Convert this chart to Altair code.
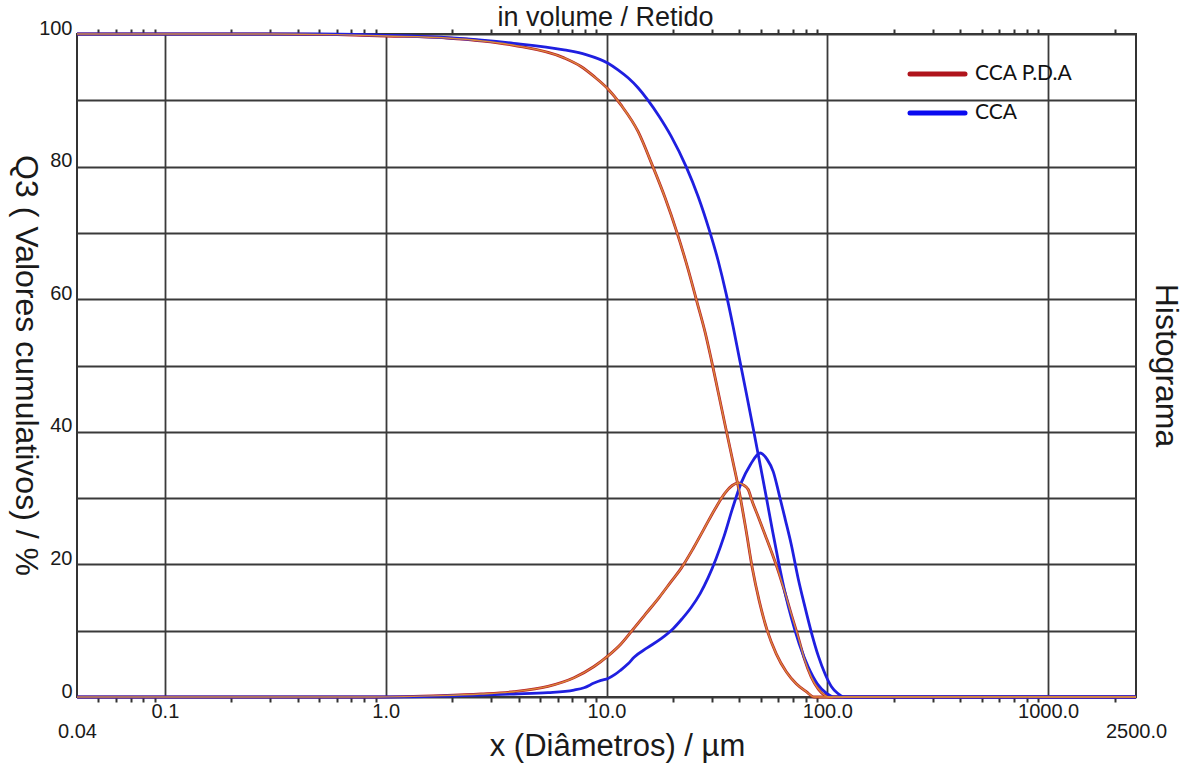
import altair as alt
import pandas as pd

# ---------------- data ----------------
series_names = ["CCA P.D.A", "CCA"]
series_colors = ["#B8202A", "#1F1FE0"]

# CCA P.D.A cumulative (retained) Q3, %
pda_cum_d = [0.04, 0.3, 0.6, 1.0, 1.9, 3.8, 6.42, 7.66, 8.78, 10.16, 11.63, 13.89, 16.08, 18.42,
             20.88, 23.42, 25.73, 27.97, 29.78, 32.04, 34.46, 37.09, 39.90, 42.93, 45.71, 49.16,
             53.46, 58.72, 65.18, 72.33, 80.30, 87.30, 2500]
pda_cum_q = [100, 100, 99.9, 99.7, 99.4, 98.3, 96.4, 95.1, 93.6, 91.7, 89.3, 85.3, 80.3, 75.3,
             70.0, 64.5, 59.5, 55.0, 51.0, 46.0, 41.0, 36.0, 31.0, 25.0, 19.5, 14.5,
             10.0, 6.5, 3.8, 2.0, 0.8, 0, 0]

# CCA P.D.A histogram
pda_hist_d = [0.04, 0.9, 1.78, 2.70, 3.81, 5.43, 7.12, 8.78, 10.16, 11.63, 13.19, 15.11, 17.30,
              19.61, 21.77, 24.69, 27.69, 31.06, 34.46, 37.09, 39.49, 41.59, 43.82, 45.71, 48.65,
              52.35, 55.72, 59.95, 63.83, 68.66, 73.87, 78.64, 84.61, 91.02, 96.92, 102.1, 2500]
pda_hist_q = [0, 0, 0.2, 0.45, 0.8, 1.6, 2.9, 4.6, 6.2, 8.0, 10.2, 12.6, 15.0,
              17.4, 19.4, 22.4, 25.4, 28.4, 30.8, 31.9, 32.3, 32.0, 31.3, 29.5, 27.2,
              24.4, 22.0, 19.0, 16.1, 12.5, 9.0, 5.8, 3.0, 1.2, 0.3, 0, 0]

# CCA cumulative (retained) Q3, %
cca_cum_d = [0.04, 0.5, 1.0, 2.0, 3.8, 6.42, 8.07, 10.16, 11.27, 12.52, 13.89, 15.43, 17.30, 19.61,
             22.94, 26.00, 29.16, 32.04, 34.83, 37.48, 39.90, 42.93, 46.18, 49.67, 52.89, 56.30,
             59.95, 64.48, 68.66, 74.65, 82.00, 90.08, 98.97, 107.6, 2500]
cca_cum_q = [100, 100, 99.8, 99.4, 98.6, 97.6, 96.9, 95.6, 94.6, 93.4, 91.9, 90.0, 87.6, 84.6,
             80.0, 75.5, 70.5, 65.8, 60.8, 55.8, 51.2, 45.9, 40.5, 35.0, 30.2, 25.3,
             20.6, 15.6, 12.0, 8.0, 4.5, 2.0, 0.6, 0, 0]

# CCA histogram
cca_hist_d = [0.04, 1.0, 1.91, 3.81, 5.43, 7.12, 7.91, 8.78, 9.44, 10.16, 10.93, 11.63, 12.52, 13.33,
              15.27, 17.67, 20.03, 22.00, 24.17, 26.55, 28.86, 31.37, 34.11, 37.09, 40.74, 44.76,
              49.67, 53.46, 56.90, 60.57, 64.48, 68.66, 73.87, 78.64, 84.61, 91.02, 97.92, 104.3,
              111.0, 119.5, 2500]
cca_hist_q = [0, 0, 0.15, 0.45, 0.65, 1.05, 1.4, 2.1, 2.5, 2.8, 3.4, 4.1, 5.0, 6.0,
              7.4, 8.8, 10.3, 11.8, 13.5, 15.6, 18.0, 20.9, 24.3, 28.3, 32.3, 35.0,
              36.8, 35.8, 34.0, 30.5, 26.8, 23.0, 17.8, 14.0, 9.8, 6.2, 3.4, 1.6,
              0.6, 0, 0]

decade_values = [0.1, 1, 10, 100, 1000]
edge_values = [0.04, 2500]
minor_values = [0.05, 0.06, 0.07, 0.08, 0.09,
                0.2, 0.3, 0.4, 0.5, 0.6, 0.7, 0.8, 0.9,
                2, 3, 4, 5, 6, 7, 8, 9,
                20, 30, 40, 50, 60, 70, 80, 90,
                200, 300, 400, 500, 600, 700, 800, 900, 2000]
y_values = [0, 10, 20, 30, 40, 50, 60, 70, 80, 90, 100]

# ---------------- table ----------------
rows = []
for name, kind, ds, qs in [
    ("CCA P.D.A", "cum", pda_cum_d, pda_cum_q),
    ("CCA P.D.A", "hist", pda_hist_d, pda_hist_q),
    ("CCA", "cum", cca_cum_d, cca_cum_q),
    ("CCA", "hist", cca_hist_d, cca_hist_q),
]:
    for i, (d, q) in enumerate(zip(ds, qs)):
        rows.append({"series": name, "kind": kind, "d": d, "q": q, "order": i})
df = pd.DataFrame(rows)

FONT = "Liberation Sans"
GRID = "#3a3a3a"
TXT = "#1a1a1a"

x_scale = alt.Scale(type="log", domain=[0.04, 2500], nice=False)
y_scale = alt.Scale(domain=[0, 100], nice=False, zero=False)

# main curves with decade grid + left axis
main = alt.Chart(df).mark_line(strokeWidth=2.8, interpolate="monotone", strokeJoin="round").encode(
    x=alt.X("d:Q", scale=x_scale, axis=alt.Axis(
        orient="bottom", values=decade_values, format=".1f", grid=True, gridColor=GRID,
        gridWidth=1.8, gridOpacity=1, ticks=False, tickSize=0, domain=False,
        labelFont=FONT, labelFontSize=20, labelColor=TXT, labelPadding=4,
        labelOverlap=False, labelFlush=False, title=None)),
    y=alt.Y("q:Q", scale=y_scale, axis=alt.Axis(
        orient="left", values=y_values, grid=True, gridColor=GRID, gridWidth=1.8, gridOpacity=1,
        ticks=False, tickSize=0, domain=False,
        labelExpr="datum.value % 20 == 0 ? datum.label : ''",
        labelFont=FONT, labelFontSize=20, labelColor=TXT, labelPadding=5,
        labelBaseline="alphabetic", labelOverlap=False, labelFlush=False,
        title="Q3 ( Valores cumulativos) / %", titleFont=FONT, titleFontSize=32,
        titleFontWeight="normal", titleColor=TXT, titleAngle=90, titleX=-52, titleY=331,
        titleAlign="center", titleBaseline="middle")),
    color=alt.Color("series:N", scale=alt.Scale(domain=series_names, range=series_colors), legend=None),
    detail="kind:N",
    order="order:Q",
)

# orange overlay for CCA P.D.A + edge labels, x title, right title
overlay = alt.Chart(df).transform_filter(
    alt.datum.series == "CCA P.D.A"
).mark_line(strokeWidth=1.4, interpolate="monotone", color="#DB8A3A").encode(
    x=alt.X("d:Q", scale=x_scale, axis=alt.Axis(
        orient="bottom", values=edge_values,
        labelExpr="datum.value > 100 ? '2500.0' : '0.04'",
        grid=False, ticks=False, tickSize=0, domain=False,
        labelFont=FONT, labelFontSize=20, labelColor=TXT, labelPadding=24,
        labelOverlap=False, labelFlush=False,
        title="x (Diâmetros) / µm", titleFont=FONT, titleFontSize=31, titleFontWeight="normal",
        titleColor=TXT, titleX=540, titleY=49, titleAlign="center", titleBaseline="middle")),
    y=alt.Y("q:Q", scale=y_scale, axis=alt.Axis(
        orient="right", labels=False, ticks=False, tickSize=0, grid=False, domain=False,
        title="Histograma", titleFont=FONT, titleFontSize=32, titleFontWeight="normal",
        titleColor=TXT, titleAngle=90, titleX=29, titleY=331, titleAlign="center",
        titleBaseline="middle")),
    detail="kind:N",
    order="order:Q",
)

# minor ticks bottom
minor_bottom = alt.Chart(df).mark_line(opacity=0).encode(
    x=alt.X("d:Q", scale=x_scale, axis=alt.Axis(
        orient="bottom", values=minor_values, labels=False, ticks=True, tickSize=5,
        tickWidth=2, tickColor="#333", grid=False, domain=False, title=None)),
    y=alt.Y("q:Q", scale=y_scale, axis=None),
    detail="kind:N", order="order:Q",
)

# minor ticks top + title
minor_top = alt.Chart(df).mark_line(opacity=0).encode(
    x=alt.X("d:Q", scale=x_scale, axis=alt.Axis(
        orient="top", values=minor_values, labels=False, ticks=True, tickSize=5,
        tickWidth=2, tickColor="#333", grid=False, domain=False,
        title="in volume / Retido", titleFont=FONT, titleFontSize=27, titleFontWeight="normal",
        titleColor=TXT, titleX=528, titleY=-17, titleAlign="center", titleBaseline="middle")),
    y=alt.Y("q:Q", scale=y_scale, axis=None),
    detail="kind:N", order="order:Q",
)

# legend (unboxed, top right of the plot, as in the picture)
legend_layers = []
for i, (name, col) in enumerate(zip(series_names, ["#B0141C", "#0A0AF0"])):
    ldf = pd.DataFrame({"label": [name]})
    ypos = 40 + i * 39
    legend_layers.append(
        alt.Chart(ldf).mark_rule(strokeWidth=5, strokeCap="round", color=col).encode(
            x=alt.value(833), x2=alt.value(888), y=alt.value(ypos)))
    legend_layers.append(
        alt.Chart(ldf).mark_text(align="left", baseline="middle", font="Lato", fontSize=21,
                                 color="#111").encode(
            x=alt.value(898), y=alt.value(ypos), text="label:N"))

chart = alt.layer(minor_bottom, minor_top, main, overlay, *legend_layers).resolve_axis(
    x="independent", y="independent"
).properties(
    width=1059, height=663,
    padding={"left": 77, "top": 34, "right": 58, "bottom": 69},
    autosize=alt.AutoSizeParams(type="none"),
    background="white",
).configure_view(stroke="#333", strokeWidth=2)

chart.save("out.html", embed_options={"renderer": "svg", "actions": False})
